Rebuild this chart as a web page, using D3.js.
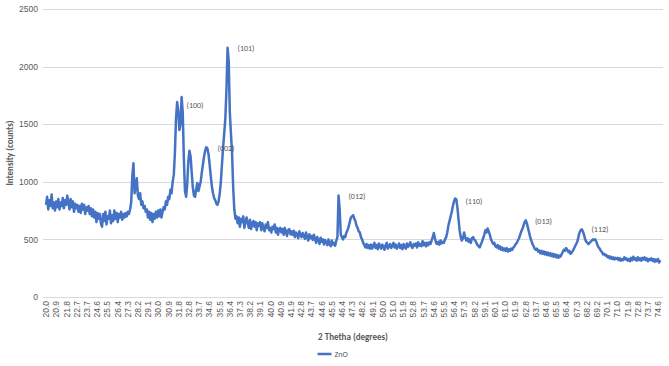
<!DOCTYPE html>
<html lang="en">
<head>
    <meta charset="UTF-8">
    <title>ZnO XRD</title>
    <script src="https://d3js.org/d3.v7.min.js"></script>
    <style>
    body{
        margin: 0;
        background: #fff;
    }
    svg{
        font-family: Carlito, "Liberation Sans", Arial, sans-serif;
    }
    .grid line{
        stroke: #d9d9d9;
        stroke-width: 1;
        shape-rendering: crispEdges;
    }
    .grid path{
        display: none;
    }
    .tick text{
        fill: #595959;
    }
    .title{
        font-size: 9px;
        font-weight: bold;
        fill: #595959;
    }
    .peak{
        font-size: 8px;
        fill: #595959;
    }
    .legendTxt{
        font-size: 8px;
        fill: #595959;
    }
    </style>
</head>
<body>
    <script>
    var width = 669;
    var height = 366;

    // data: intensity every 0.1 degrees, starting at 20.0 (one row = 1 degree)
    var startAngle = 20.0;
    var stepAngle = 0.1;
    var intensity = [
        800, 870, 760, 840, 790, 890, 770, 820, 750, 830,
        780, 850, 760, 820, 790, 860, 770, 840, 800, 880,
        820, 760, 850, 780, 830, 740, 810, 770, 800, 740,
        790, 730, 810, 760, 800, 720, 780, 750, 790, 720,
        770, 700, 760, 690, 740, 650, 730, 680, 720, 640,
        610, 720, 660, 740, 630, 700, 680, 750, 640, 710,
        660, 750, 680, 730, 650, 720, 690, 740, 670, 720,
        690, 730, 700, 740, 720, 760, 820, 1050, 1160, 900,
        960, 1030, 880, 850, 900, 800, 830, 770, 790, 740,
        760, 690, 740, 670, 730, 650, 720, 680, 740, 690,
        750, 700, 760, 690, 740, 780, 760, 830, 800, 870,
        850, 930, 900, 1000, 1060, 1250, 1550, 1693, 1620, 1450,
        1500, 1736, 1600, 1200, 920, 870, 980, 1180, 1270, 1220,
        1080, 950, 880, 870, 940, 990, 920, 960, 1000, 1080,
        1150, 1220, 1270, 1300, 1290, 1240, 1150, 1050, 960, 900,
        860, 840, 810, 800, 830, 900, 1000, 1150, 1300, 1420,
        1550, 1800, 2163, 2050, 1600, 1420, 1250, 950, 760, 680,
        700, 640, 690, 610, 680, 650, 700, 600, 660, 690,
        640, 600, 670, 590, 640, 660, 610, 650, 580, 640,
        620, 650, 580, 640, 600, 570, 630, 600, 650, 580,
        600, 560, 610, 590, 630, 560, 600, 540, 590, 600,
        560, 590, 540, 600, 570, 530, 580, 590, 545, 570,
        540, 575, 520, 560, 545, 510, 570, 540, 520, 555,
        530, 505, 560, 520, 490, 545, 510, 530, 495, 540,
        505, 470, 520, 495, 460, 515, 480, 500, 455, 495,
        475, 450, 500, 460, 440, 490, 455, 470, 445, 490,
        520, 880, 760, 540, 520, 500, 530, 520, 560, 580,
        610, 650, 690, 700, 710, 680, 660, 620, 600, 570,
        560, 520, 500, 470, 450, 430, 460, 425, 450, 420,
        455, 420, 445, 470, 425, 450, 415, 465, 440, 420,
        455, 435, 410, 450, 470, 420, 440, 460, 425, 445,
        470, 430, 455, 420, 440, 465, 425, 450, 415, 460,
        440, 420, 465, 435, 450, 475, 440, 425, 460, 445,
        465, 430, 475, 445, 460, 440, 485, 450, 470, 440,
        470, 450, 475, 460, 490, 520, 555, 510, 470, 460,
        480, 455, 490, 465, 480, 470, 500, 520, 560, 620,
        660, 700, 740, 790, 830, 855, 850, 780, 680, 580,
        520, 490, 510, 560, 520, 490, 510, 480, 500, 470,
        510, 520, 500, 490, 470, 450, 440, 430, 460, 480,
        510, 540, 580, 560, 595, 570, 540, 500, 480, 460,
        470, 440, 430, 450, 420, 440, 410, 430, 405, 420,
        400, 425, 395, 415, 400, 420, 410, 430, 440, 460,
        470, 490, 510, 540, 570, 590, 620, 650, 665, 640,
        600, 560, 520, 490, 460, 440, 420, 410, 420, 395,
        405, 380, 400, 375, 395, 370, 390, 365, 385, 360,
        380, 355, 375, 350, 370, 345, 365, 340, 360, 350,
        370, 390, 410, 400, 425, 410, 390, 400, 375, 385,
        400, 420, 440, 460, 480, 520, 560, 580, 587, 570,
        540, 500, 480, 470, 460, 470, 480, 490, 500, 495,
        500, 480, 450, 430, 420, 400, 390, 370, 375, 360,
        365, 345, 355, 335, 350, 330, 345, 325, 340, 330,
        340, 320, 335, 315, 330, 320, 345, 325, 335, 315,
        330, 310, 340, 320, 350, 325, 335, 315, 345, 320,
        335, 315, 340, 325, 345, 320, 335, 310, 330, 320,
        335, 315, 330, 305, 325, 310, 330, 300, 320
    ];
    var seriesName = "ZnO";

    var yTicks = [0, 500, 1000, 1500, 2000, 2500];
    var xTickLabels = [
        "20.0", "20.9", "21.8", "22.7", "23.7", "24.6", "25.5", "26.4", "27.3", "28.2",
        "29.1", "30.0", "30.9", "31.8", "32.8", "33.7", "34.6", "35.5", "36.4", "37.3",
        "38.2", "39.1", "40.0", "40.9", "41.9", "42.8", "43.7", "44.6", "45.5", "46.4",
        "47.3", "48.2", "49.1", "50.0", "51.0", "51.9", "52.8", "53.7", "54.6", "55.5",
        "56.4", "57.3", "58.2", "59.1", "60.1", "61.0", "61.9", "62.8", "63.7", "64.6",
        "65.5", "66.4", "67.3", "68.2", "69.2", "70.1", "71.0", "71.9", "72.8", "73.7",
        "74.6"
    ];

    // peak labels, placed at (angle, counts) of their centre
    var peakLabels = ["(100)", "(002)", "(101)", "(012)", "(110)", "(013)", "(112)"];
    var peakAngles = [33.29, 36.06, 37.84, 47.74, 58.18, 64.38, 69.42];
    var peakCounts = [1667, 1292, 2163, 875, 831, 657, 587];

    var data = intensity.map(function(v, i){
        return {angle: startAngle + i * stepAngle, value: v};
    });

    // plot area
    var plotLeft = 43, plotRight = 663;

    var svg = d3.select("body")
        .append("svg")
        .attr("width", width)
        .attr("height", height);

    var xScale = d3.scaleLinear()
        .domain([20.0, 74.6])
        .range([46, 658]);

    var yScale = d3.scaleLinear()
        .domain([0, 2500])
        .range([297, 9]);

    // gridlines + y labels
    var yAxis = d3.axisLeft(yScale)
        .tickValues(yTicks)
        .tickSize(-(plotRight - plotLeft))
        .tickPadding(5)
        .tickFormat(d3.format("d"));

    svg.append("g")
        .attr("class", "grid")
        .attr("transform", "translate(" + plotLeft + ",0)")
        .call(yAxis)
        .selectAll("text")
        .style("font-size", "8.5px");

    // x labels: evenly spaced categories
    var tickScale = d3.scalePoint()
        .domain(xTickLabels)
        .range([xScale(+xTickLabels[0]), xScale(+xTickLabels[xTickLabels.length - 1])]);

    var xAxis = d3.axisBottom(tickScale).tickSize(0);

    var gx = svg.append("g")
        .attr("transform", "translate(0," + yScale(0) + ")")
        .call(xAxis);
    gx.select(".domain").remove();
    gx.selectAll("text")
        .style("font-size", "8.5px")
        .attr("text-anchor", "end")
        .attr("transform", "rotate(-90)")
        .attr("x", -4)
        .attr("y", 0)
        .attr("dy", "0.32em");

    // line
    var line = d3.line()
        .x(function(d){ return xScale(d.angle); })
        .y(function(d){ return yScale(d.value); });

    svg.append("path")
        .datum(data)
        .attr("fill", "none")
        .attr("stroke", "#4472c4")
        .attr("stroke-width", 2.5)
        .attr("stroke-linejoin", "round")
        .attr("d", line);

    // peak labels
    svg.selectAll(".peak")
        .data(peakLabels).enter()
        .append("text")
        .attr("class", "peak")
        .attr("text-anchor", "middle")
        .attr("dy", "0.35em")
        .attr("x", function(d, i){ return xScale(peakAngles[i]); })
        .attr("y", function(d, i){ return yScale(peakCounts[i]); })
        .text(function(d){ return d; });

    // axis titles
    svg.append("text")
        .attr("class", "title")
        .attr("text-anchor", "middle")
        .attr("transform", "translate(13," + (yScale(0) + yScale(2500)) / 2 + ") rotate(-90)")
        .text("Intensity (counts)");

    svg.append("text")
        .attr("class", "title")
        .attr("text-anchor", "middle")
        .attr("x", (plotLeft + plotRight) / 2)
        .attr("y", 340)
        .text("2 Thetha (degrees)");

    // legend
    var legend = svg.append("g")
        .attr("transform", "translate(" + (width / 2 - 17) + ",354)");
    legend.append("line")
        .attr("x1", 0).attr("x2", 14)
        .attr("stroke", "#4472c4")
        .attr("stroke-width", 2.5);
    legend.append("text")
        .attr("class", "legendTxt")
        .attr("x", 17)
        .attr("dy", "0.35em")
        .text(seriesName);
    </script>
</body>
</html>
